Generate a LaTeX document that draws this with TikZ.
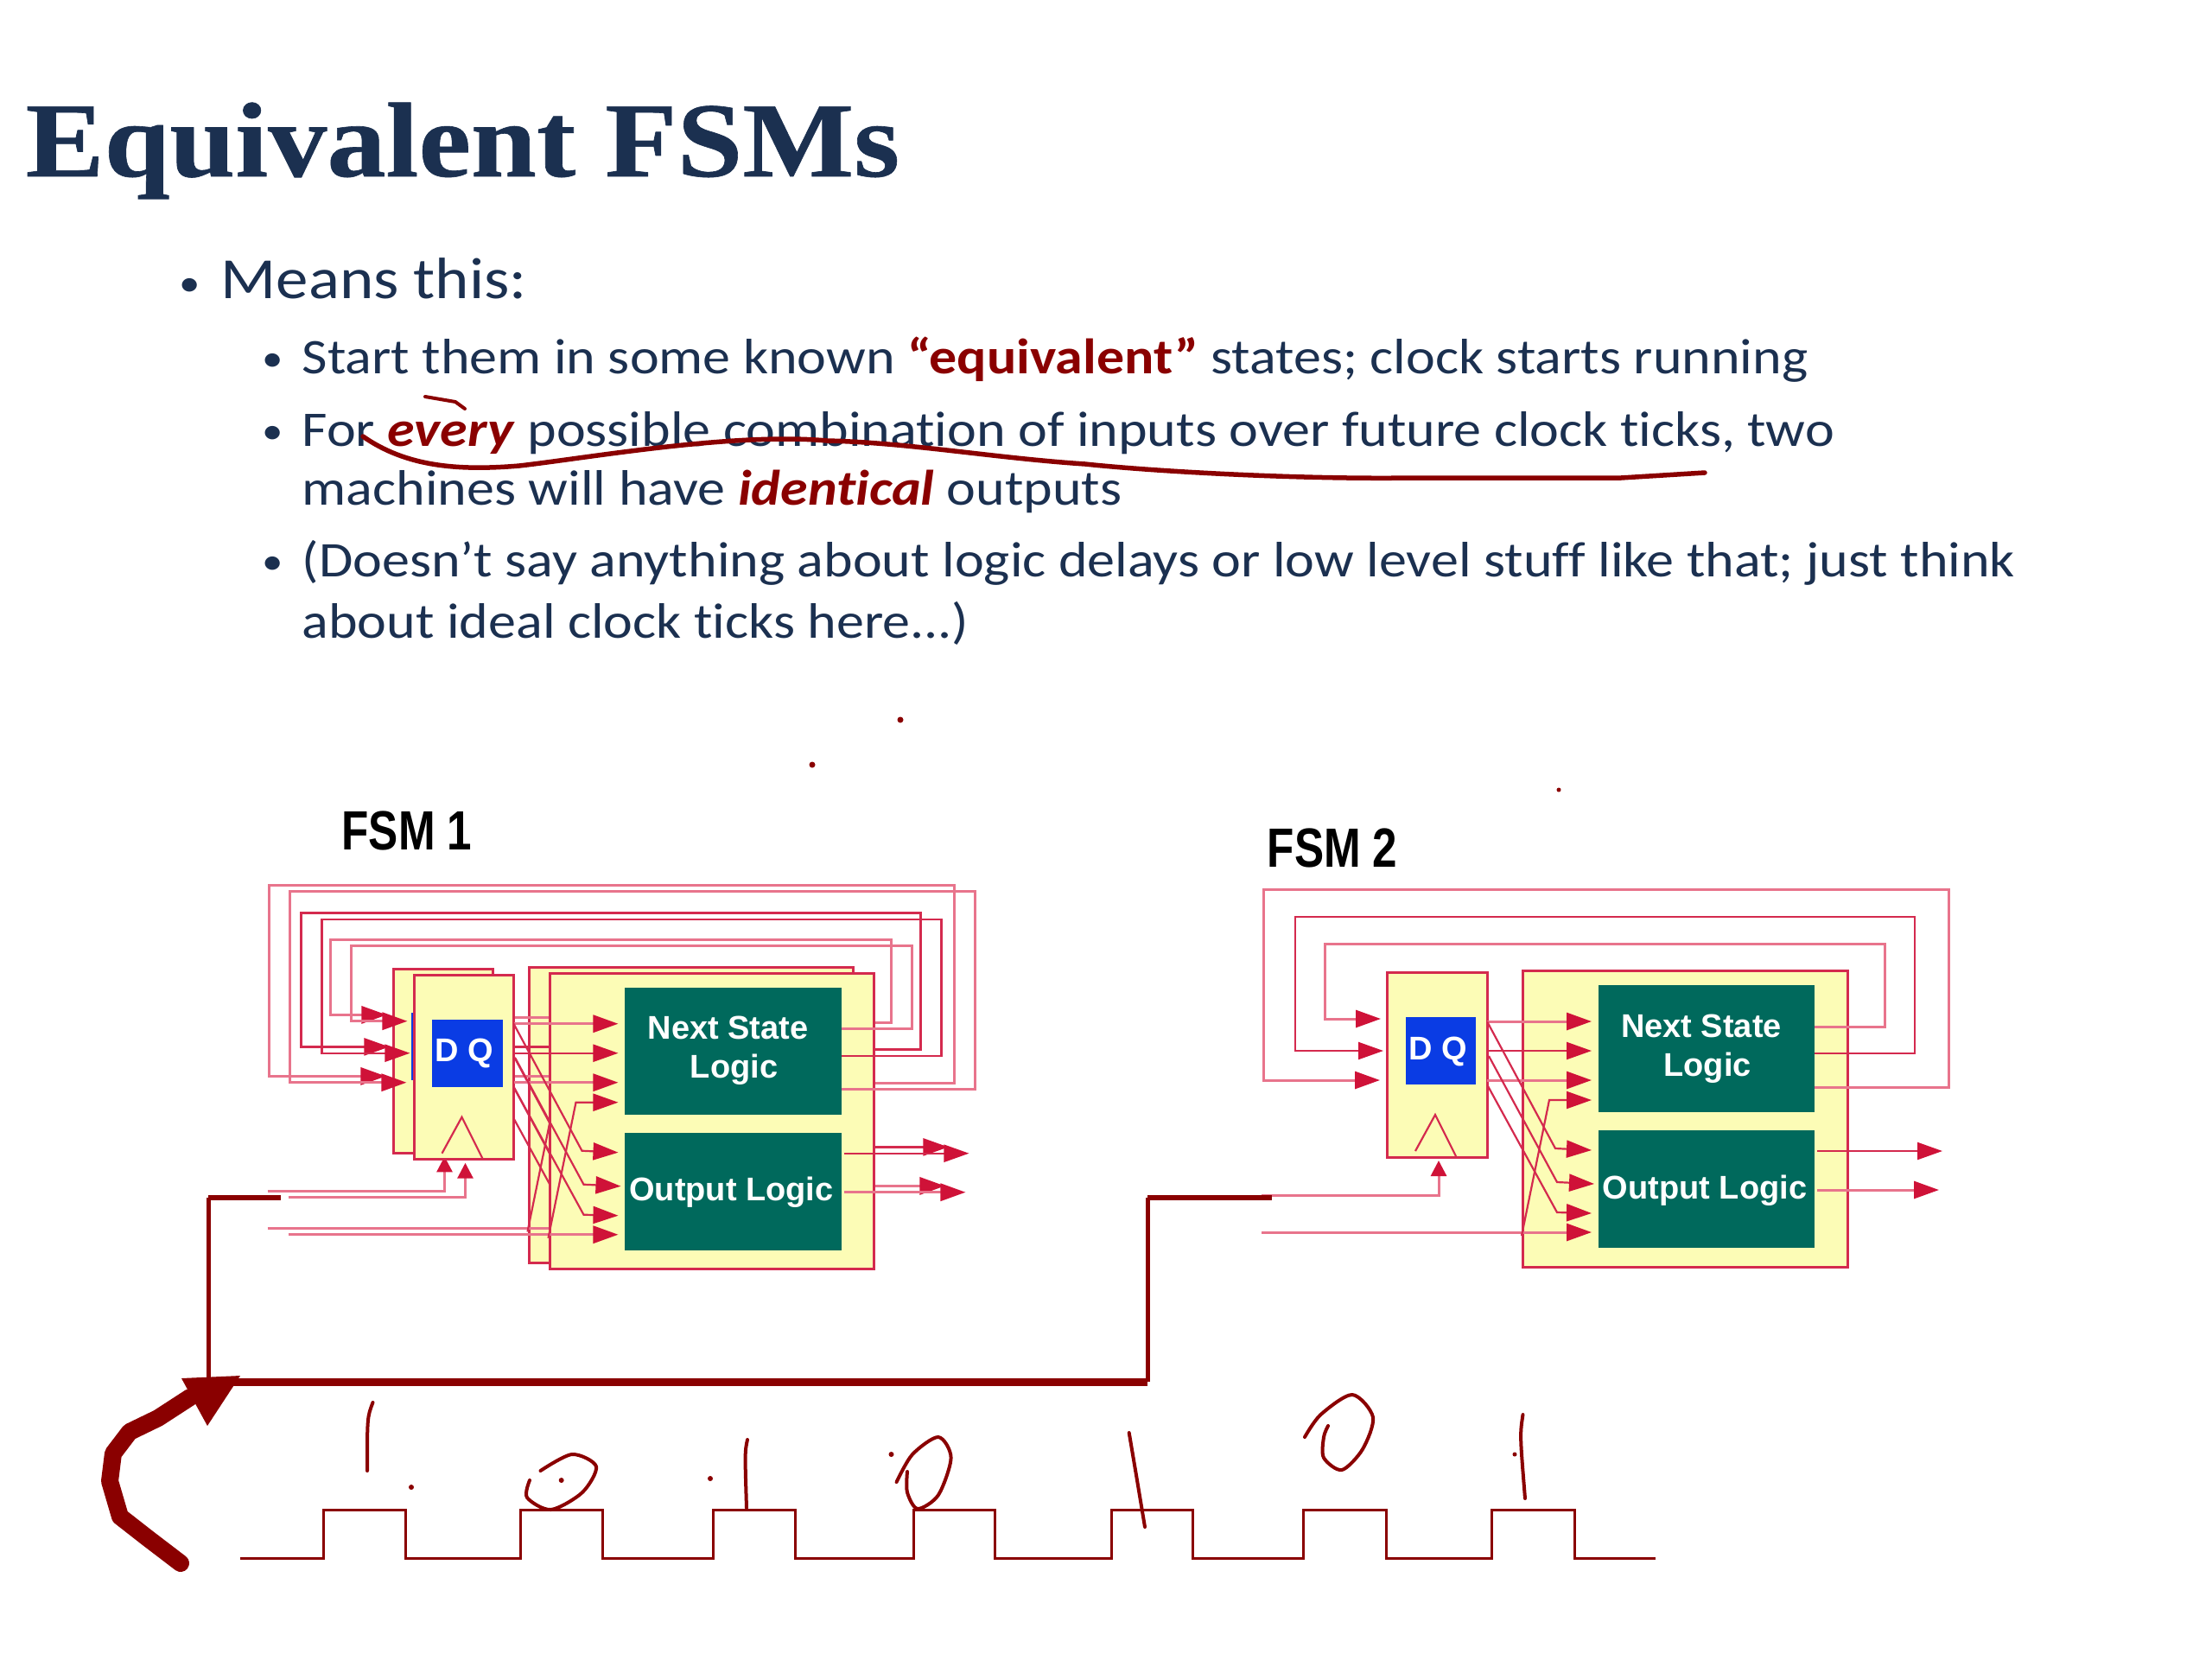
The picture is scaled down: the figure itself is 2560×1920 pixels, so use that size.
\documentclass[tikz,border=0pt]{standalone}
\usepackage{fontspec}
\setmainfont[FakeStretch=1.11, Ligatures={NoCommon}]{Carlito}
\newfontfamily\titlefont[FakeStretch=1.108, FakeBold=0.5]{Liberation Serif}
\newfontfamily\labelfont{Liberation Sans}
\newfontfamily\fsmfont[FakeStretch=0.8]{Liberation Sans}
\usetikzlibrary{arrows.meta}

\definecolor{navy}{HTML}{1B3050}
\definecolor{ink}{HTML}{8A0000}
\definecolor{wirered}{HTML}{D42A4E}
\definecolor{tipred}{HTML}{CF1238}
\definecolor{palered}{HTML}{E8748C}
\definecolor{boxyellow}{HTML}{FCFCB6}
\definecolor{boxgreen}{HTML}{00695C}
\definecolor{boxblue}{HTML}{0A3CE4}

\tikzset{
    textline/.style={anchor=base west, inner sep=0pt, text=navy, font=\fontsize{16.4}{18}\selectfont},
    bigline/.style={textline, font=\fontsize{19.2}{22}\selectfont},
    bulletmark/.style={anchor=base west, inner sep=0pt, text=navy, font=\fontsize{12.5}{14}\selectfont},
    yellowbox/.style={draw=wirered, fill=boxyellow, line width=0.03cm, inner sep=0pt},
    greenbox/.style={fill=boxgreen, inner sep=0pt},
    boxlabel/.style={inner sep=0pt, anchor=base, text=white, font=\labelfont\bfseries\fontsize{10.8}{12}\selectfont},
    wire/.style={draw=wirered, line width=0.022cm},
    palewire/.style={draw=palered, line width=0.03cm},
    tipx/.style={-{Triangle[length=0.29cm, width=0.2cm, color=tipred]}},
    tipy/.style={-{Triangle[length=0.18cm, width=0.18cm, color=tipred]}},
    pen/.style={draw=ink, line width=0.04cm, line cap=round, line join=round},
}

% one flip-flop with its logic; the numbers are the ones of FSM 2
\newcommand{\fsmcopy}[1]{
    \node[yellowbox, minimum width=1.15cm, minimum height=2.13cm] (#1ff) at (1663.5, 1232.5) {};
    \node[yellowbox, minimum width=3.75cm, minimum height=3.42cm] (#1logic) at (1950.5, 1295) {};
    \node[fill=boxblue, inner sep=0pt, minimum width=0.81cm, minimum height=0.78cm] (#1blue) at (1667.5, 1216) {};
    \node[greenbox, minimum width=2.5cm, minimum height=1.47cm] (#1next) at (1975, 1213.5) {};
    \node[greenbox, minimum width=2.5cm, minimum height=1.36cm] (#1out) at (1975, 1376) {};
    \draw[wire] (1638, 1332) -- (1661, 1290) -- (1685, 1338);

    \coordinate (#1ns1) at (2100, 1188);
    \coordinate (#1ns2) at (2100, 1219);
    \coordinate (#1ns3) at (2100, 1258);
    \coordinate (#1d1) at (1598, 1179);
    \coordinate (#1d2) at (1601, 1216);
    \coordinate (#1d3) at (1597, 1250);
    \coordinate (#1q1) at (1721, 1182);
    \coordinate (#1q2) at (1721, 1216);
    \coordinate (#1q3) at (1721, 1250);
    \coordinate (#1in1) at (1842, 1182);
    \coordinate (#1in2) at (1842, 1216);
    \coordinate (#1in3) at (1842, 1250);
    \coordinate (#1in4) at (1842, 1273);
    \coordinate (#1in5) at (1842, 1331);
    \coordinate (#1in6) at (1845, 1370);
    \coordinate (#1in7) at (1842, 1404);
    \coordinate (#1in8) at (1842, 1426);
    \coordinate (#1ext) at (1460, 1426);
    \coordinate (#1clk) at (1460, 1383);
    \coordinate (#1ck) at (1665, 1343);
    \coordinate (#1o1) at (2103, 1332);
    \coordinate (#1o2) at (2103, 1377);
    \coordinate (#1oe1) at (2248, 1332);
    \coordinate (#1oe2) at (2244, 1377);

    \draw[palewire, tipx] (#1ns1) -| (2181.5, 1092) -| (1533, 1179) -- (#1d1);
    \draw[wire, tipx] (#1ns2) -| (2216, 1061) -| (1499, 1216) -- (#1d2);
    \draw[palewire, tipx] (#1ns3) -| (2255, 1029) -| (1462, 1250) -- (#1d3);

    \draw[palewire, tipx] (#1q1) -- (#1in1);
    \draw[wire, tipx] (#1q2) -- (#1in2);
    \draw[palewire, tipx] (#1q3) -- (#1in3);
    \draw[wire, tipx] (#1q1) -- (1800, 1329) -- (#1in5);
    \draw[wire, tipx] (1723, 1222) -- (1802, 1368) -- (#1in6);
    \draw[wire, tipx] (1721, 1255) -- (1802, 1403) -- (#1in7);
    \draw[palewire, tipx] (#1ext) -- (#1in8);
    \draw[wire, tipx] (1761, 1430) -- (1793, 1273) -- (#1in4);
    \draw[palewire, tipy] (#1clk) -| (#1ck);
    \draw[wire, tipx] (#1o1) -- (#1oe1);
    \draw[palewire, tipx] (#1o2) -- (#1oe2);
}

\newcommand{\fsmtext}[1]{
    \node[boxlabel] (#1dq) at (1664, 1226) {D Q};
    \node[boxlabel] (#1nsa) at (1969, 1200) {Next State};
    \node[boxlabel] (#1nsb) at (1976, 1245) {Logic};
    \node[boxlabel] (#1ol) at (1973, 1387) {Output Logic};
}

\begin{document}
\begin{tikzpicture}[x=0.01cm, y=-0.01cm]
    \useasboundingbox (0, 0) rectangle (2560, 1920);

    \node[inner sep=0pt, anchor=base west, text=navy, font=\titlefont\bfseries\fontsize{35}{40}\selectfont] (title) at (29, 204) {Equivalent FSMs};

    \node[bulletmark] (bulla) at (207, 342) {•};
    \node[bigline] (means) at (255, 345) {Means this:};
    \node[bulletmark] (bullb) at (303, 429) {•};
    \node[textline] (start) at (349, 432) {Start them in some known \textcolor{ink}{\textbf{“equivalent”}} states; clock starts running};
    \node[bulletmark] (bullc) at (303, 513) {•};
    \node[textline] (fora) at (349, 516) {For \textcolor{ink}{\textbf{\textit{every}}} possible combination of inputs over future clock ticks, two};
    \node[textline] (forb) at (349, 584) {machines will have \textcolor{ink}{\textbf{\textit{identical}}} outputs};
    \node[bulletmark] (bulld) at (303, 664) {•};
    \node[textline] (nota) at (349, 667) {(Doesn’t say anything about logic delays or low level stuff like that; just think};
    \node[textline] (notb) at (349, 738) {about ideal clock ticks here...)};

    \node[inner sep=0pt, anchor=base west, font=\fsmfont\bfseries\fontsize{18.2}{20}\selectfont] (fsma) at (395, 983) {FSM 1};
    \node[inner sep=0pt, anchor=base west, font=\fsmfont\bfseries\fontsize{18.2}{20}\selectfont] (fsmb) at (1466, 1003) {FSM 2};

    \begin{scope}[shift={(-1150.5, -4.6)}]
        \fsmcopy{b}
    \end{scope}
    \begin{scope}[shift={(-1126.5, 2.7)}]
        \fsmcopy{a}
        \fsmtext{a}
    \end{scope}
    \fsmcopy{c}
    \fsmtext{c}

    % ink written over the slide
    \draw[pen, line width=0.055cm] (420, 505) .. controls (470, 540) and (530, 545) .. (601, 539) .. controls (680, 530) and (850, 500) .. (957, 510) .. controls (1050, 512) and (1150, 530) .. (1256, 537) .. controls (1330, 545) and (1500, 555) .. (1635, 553) -- (1876, 553) -- (1973, 547);
    \draw[pen] (492, 459) -- (527, 465) -- (538, 473);
    \fill[ink] (1042, 833) circle (0.035cm);
    \fill[ink] (940, 885) circle (0.035cm);
    \fill[ink] (1804, 914) circle (0.025cm);

    \coordinate (clkl) at (241, 1599);
    \coordinate (clkr) at (1328, 1599);
    \draw[ink, line width=0.09cm] (clkl) -- (clkr);
    \draw[ink, line width=0.05cm] (clkl) -- (241, 1386);
    \draw[ink, line width=0.05cm] (clkr) -- (1328, 1386);
    \draw[ink, line width=0.06cm] (241, 1386) -- (325, 1386);
    \draw[ink, line width=0.06cm] (1328, 1386) -- (1472, 1386);
    \fill[ink] (210, 1595) -- (278, 1592) -- (240, 1650) -- cycle;
    \draw[pen, line width=0.2cm] (209, 1809) -- (171, 1780) -- (139, 1755) -- (127, 1714) -- (131, 1682) -- (150, 1657) -- (183, 1641) -- (220, 1617);

    \draw[draw=ink, line width=0.03cm] (277.6, 1803) -- (374.5, 1803) -- (374.5, 1747) -- (469, 1747) -- (469, 1803) -- (602, 1803) -- (602, 1747) -- (697, 1747) -- (697, 1803) -- (825.5, 1803) -- (825.5, 1747) -- (920, 1747) -- (920, 1803) -- (1057, 1803) -- (1057, 1747) -- (1151.5, 1747) -- (1151.5, 1803) -- (1286, 1803) -- (1286, 1747) -- (1380.6, 1747) -- (1380.6, 1803) -- (1508, 1803) -- (1508, 1747) -- (1604, 1747) -- (1604, 1803) -- (1726, 1803) -- (1726, 1747) -- (1822, 1747) -- (1822, 1803) -- (1916, 1803);

    \draw[pen] (431.5, 1623) .. controls (425, 1640) .. (425, 1702);
    \fill[ink] (476, 1721) circle (0.03cm);
    \draw[pen] plot[smooth] coordinates {(625.5, 1702) (662, 1683) (690, 1697) (674, 1727) (637.6, 1747) (610, 1733) (613, 1713)};
    \fill[ink] (649.7, 1713) circle (0.03cm);
    \fill[ink] (822, 1711) circle (0.03cm);
    \draw[pen] (865, 1666) .. controls (862, 1680) .. (864, 1745);
    \fill[ink] (1031.5, 1683) circle (0.03cm);
    \draw[pen] plot[smooth] coordinates {(1037.6, 1715) (1056, 1683) (1086, 1663) (1100.6, 1687) (1086, 1730) (1062, 1746) (1050, 1727) (1050, 1703)};
    \draw[pen] (1306.7, 1658) -- (1316, 1713) -- (1325, 1767);
    \draw[pen] plot[smooth] coordinates {(1510, 1663) (1528.5, 1637) (1565, 1614) (1589, 1640) (1577, 1677) (1553, 1701) (1532, 1687) (1532, 1663) (1537, 1650)};
    \draw[pen] (1762.5, 1637) .. controls (1759, 1660) .. (1765, 1734);
    \fill[ink] (1753, 1683) circle (0.025cm);
\end{tikzpicture}
\end{document}
